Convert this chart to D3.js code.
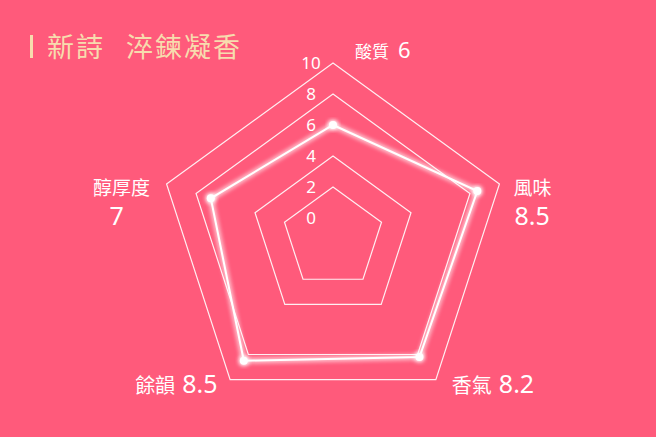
<!DOCTYPE html>
<html>
<head>
<meta charset="utf-8">
<script src="https://cdn.jsdelivr.net/npm/d3@7"></script>
<style>
  html, body { margin: 0; padding: 0; background: #ff5a7b; }
  svg { display: block; font-family: "Noto Sans CJK TC", "Noto Sans", sans-serif; }
</style>
</head>
<body>
<div id="chart"></div>
<script>
const ancho = 656
const alto = 437

// datos
const categorias = ["酸質", "風味", "香氣", "餘韻", "醇厚度"]
const valores = [6, 8.5, 8.2, 8.5, 7]
const anillos = [2, 4, 8, 10]
const marcas = [0, 2, 4, 6, 8, 10]
const titulo = ["新詩", "淬鍊凝香"]

const centro = { x: 333, y: 238 }
const crema = "#f7dcae"

const svg = d3.select("#chart").append("svg").attr("width", ancho).attr("height", alto)
svg.append("rect").attr("width", ancho).attr("height", alto).attr("fill", "#ff5a7b")

// filtro de brillo para la línea de datos
const defs = svg.append("defs")
const brillo = defs.append("filter").attr("id", "brillo")
    .attr("x", "-50%").attr("y", "-50%").attr("width", "200%").attr("height", "200%")
brillo.append("feGaussianBlur").attr("in", "SourceGraphic").attr("stdDeviation", 2.5).attr("result", "blur")
const merge = brillo.append("feMerge")
merge.append("feMergeNode").attr("in", "blur")
merge.append("feMergeNode").attr("in", "blur")
merge.append("feMergeNode").attr("in", "SourceGraphic")

// título
svg.append("rect").attr("x", 30).attr("y", 35).attr("width", 3).attr("height", 23).attr("fill", crema)
const t = svg.append("text").attr("x", 47).attr("y", 57).attr("fill", crema)
    .attr("font-size", 27).attr("letter-spacing", 2)
t.append("tspan").text(titulo[0])
t.append("tspan").attr("x", 126).text(titulo[1])

const r = d3.scaleLinear().domain([0, 10]).range([20, 175])
const angulo = i => i * 2 * Math.PI / categorias.length

const g = svg.append("g").attr("transform", `translate(${centro.x}, ${centro.y})`)

const radial = d3.lineRadial().curve(d3.curveLinearClosed)

// anillos de la rejilla
g.selectAll("path.anillo").data(anillos).enter().append("path")
    .attr("class", "anillo")
    .attr("d", v => radial(categorias.map((c, i) => [angulo(i), r(v)])))
    .attr("fill", "none")
    .attr("stroke", "#fff")
    .attr("stroke-opacity", 0.9)
    .attr("stroke-width", 1.2)

// marcas del eje
g.selectAll("text.marca").data(marcas).enter().append("text")
    .attr("class", "marca")
    .attr("x", -22)
    .attr("y", v => -r(v) + 6)
    .attr("text-anchor", "middle")
    .attr("fill", "#fff")
    .attr("font-family", "Noto Sans, sans-serif")
    .attr("font-size", 17)
    .text(d => d)

// línea de datos
const puntos = valores.map((v, i) => [angulo(i), r(v)])
g.append("path")
    .attr("d", radial(puntos))
    .attr("fill", "none")
    .attr("stroke", "#fff")
    .attr("stroke-width", 2)
    .attr("filter", "url(#brillo)")

g.selectAll("circle").data(valores).enter().append("circle")
    .attr("cx", (v, i) => r(v) * Math.sin(angulo(i)))
    .attr("cy", (v, i) => -r(v) * Math.cos(angulo(i)))
    .attr("r", 4)
    .attr("fill", "#fff")
    .attr("filter", "url(#brillo)")

// etiquetas: desplazamiento desde el vértice exterior
const disposicion = [
    { dx: 22, dy: -5, modo: "linea", tc: 17, tv: 22, sep: 9 },
    { dx: 14, dy: 11, modo: "dos", tc: 19, tv: 25, ancla: "start", sep: 30 },
    { dx: 16, dy: 13, modo: "linea", tc: 20, tv: 25, sep: 7 },
    { dx: -95, dy: 13, modo: "linea", tc: 20, tv: 25, sep: 7 },
    { dx: -45, dy: 11, modo: "dos", tc: 19, tv: 25, ancla: "middle", sep: 30, dvx: -5 }
]

categorias.forEach((c, i) => {
    const vx = centro.x + r(10) * Math.sin(angulo(i))
    const vy = centro.y - r(10) * Math.cos(angulo(i))
    const d = disposicion[i]
    const x = vx + d.dx, y = vy + d.dy
    if (d.modo === "linea") {
        const txt = svg.append("text").attr("x", x).attr("y", y).attr("fill", "#fff")
        txt.append("tspan").attr("font-size", d.tc).text(c)
        txt.append("tspan").attr("font-size", d.tv).attr("dx", d.sep)
            .attr("font-family", "Noto Sans, sans-serif").text(valores[i])
    } else {
        svg.append("text").attr("x", x).attr("y", y).attr("fill", "#fff")
            .attr("text-anchor", d.ancla).attr("font-size", d.tc).text(c)
        svg.append("text").attr("x", x + (d.dvx || 1)).attr("y", y + d.sep).attr("fill", "#fff")
            .attr("text-anchor", d.ancla).attr("font-size", d.tv)
            .attr("font-family", "Noto Sans, sans-serif").text(valores[i])
    }
})
</script>
</body>
</html>
